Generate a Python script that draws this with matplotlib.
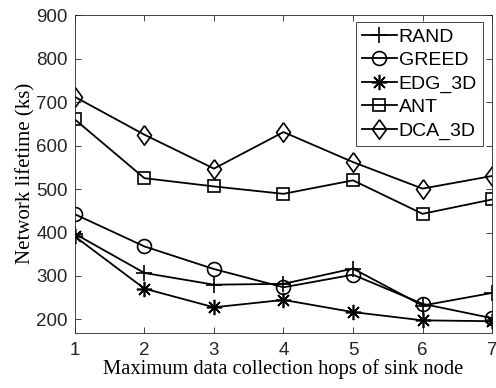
import matplotlib
matplotlib.use("Agg")
import matplotlib.pyplot as plt

# hops and lifetime (ks) for each scheme
hops = [1, 2, 3, 4, 5, 6, 7]
rand = [397, 307, 280, 282, 317, 232, 261]
greed = [442, 368, 316, 274, 303, 236, 203]
edg_3d = [391, 271, 228, 245, 217, 198, 196]
ant = [660, 525, 506, 489, 520, 443, 476]
dca_3d = [712, 625, 547, 631, 562, 501, 530]

yticks = [200, 300, 400, 500, 600, 700, 800, 900]

# matlab-like markers: 8-arm asterisk and a slightly tall diamond
asterisk = (8, 2, 0)
diamond = [(0, 1), (0.72, 0), (0, -1), (-0.72, 0), (0, 1)]

fig = plt.figure(figsize=(4.96, 3.88), dpi=100)
ax = fig.add_axes([0.151, 0.143, 0.841, 0.818])

kw = dict(color="black", linewidth=1.3, markerfacecolor="none", markeredgewidth=1.2)
ax.plot(hops, rand, marker="+", markersize=12, label="RAND", **kw)
ax.plot(hops, greed, marker="o", markersize=10, label="GREED", **kw)
ax.plot(hops, edg_3d, marker=asterisk, markersize=11, label="EDG_3D", **kw)
ax.plot(hops, ant, marker="s", markersize=8.5, label="ANT", **kw)
ax.plot(hops, dca_3d, marker=diamond, markersize=14, label="DCA_3D", **kw)

ax.set_xlim(1, 7)
ax.set_ylim(170, 900)
ax.set_xticks(hops)
ax.set_yticks(yticks)
ax.tick_params(direction="in", top=True, right=True, length=4, width=0.6,
               labelsize=13.5, colors="#262626", pad=7)
ax.tick_params(axis="y", pad=5)
for lbl in ax.get_xticklabels() + ax.get_yticklabels():
    lbl.set_fontfamily("Liberation Sans")
    lbl.set_color("#262626")
for s in ax.spines.values():
    s.set_linewidth(0.6)
    s.set_color("#262626")

ax.set_xlabel("Maximum data collection hops of sink node",
              fontfamily="Liberation Serif", fontsize=14.8, labelpad=0)
ax.set_ylabel("Network lifetime (ks)",
              fontfamily="Liberation Serif", fontsize=15, labelpad=1)

leg = ax.legend(loc="upper right", bbox_to_anchor=(0.978, 0.978),
                prop={"family": "Liberation Sans", "size": 14},
                fancybox=False, edgecolor="#262626", framealpha=1,
                handlelength=1.8, handletextpad=0.1, labelspacing=0.3,
                borderpad=0.3, borderaxespad=0)
leg.get_frame().set_linewidth(0.6)

fig.savefig("out.png", dpi=100)
